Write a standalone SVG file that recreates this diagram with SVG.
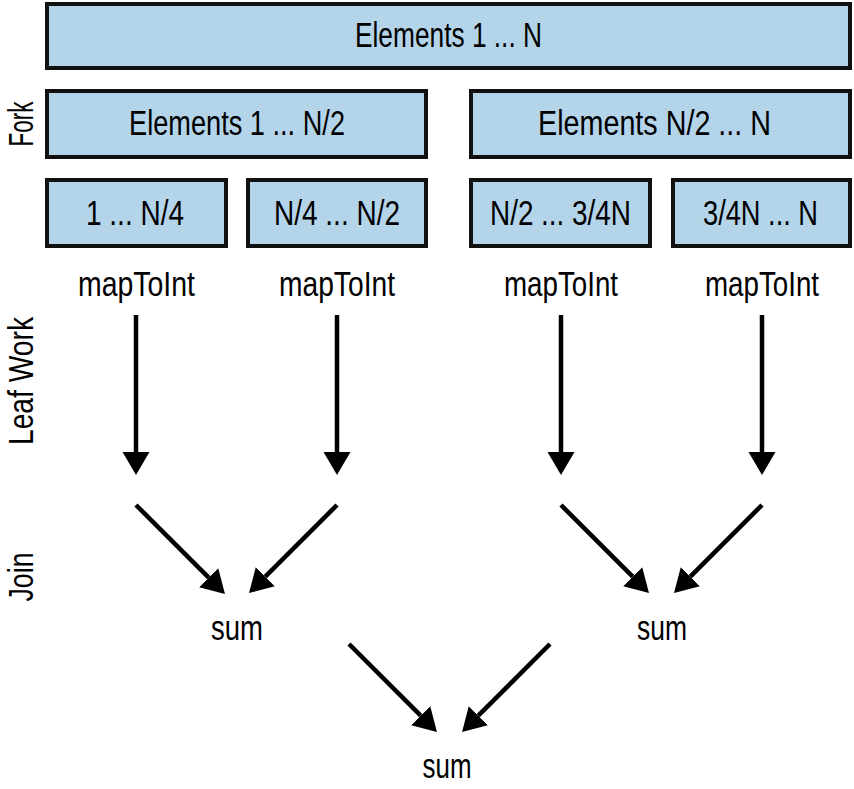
<svg xmlns="http://www.w3.org/2000/svg" width="854" height="789" viewBox="0 0 854 789">
<style>
.box{fill:#b3d4e9;stroke:#111;stroke-width:4}
.t{font-family:"Liberation Sans",Arial,sans-serif;font-size:35px;fill:#000;text-anchor:middle}
.c{stroke:#000;stroke-width:4.5;fill:none;marker-end:url(#ah)}
</style>
<defs>
<marker id="ah" markerUnits="userSpaceOnUse" markerWidth="24" markerHeight="28" viewBox="0 -14 24 28" refX="0" refY="0" orient="auto">
<path d="M0,-13.5 L23,0 L0,13.5 Z" fill="#000"/>
</marker>
</defs>
<rect width="854" height="789" fill="#fff"/>
<g id="all">
<rect class="box" x="47" y="4" width="803" height="64"/>
<text class="t" x="448.5" y="47" textLength="187" lengthAdjust="spacingAndGlyphs">Elements 1 ... N</text>
</g>
<g id="half1">
<rect class="box" x="47" y="91" width="379" height="66"/>
<text class="t" x="237" y="135" textLength="216" lengthAdjust="spacingAndGlyphs">Elements 1 ... N/2</text>
</g>
<g id="half2">
<rect class="box" x="471" y="91" width="379" height="66"/>
<text class="t" x="654.5" y="135" textLength="233" lengthAdjust="spacingAndGlyphs">Elements N/2 ... N</text>
</g>
<g id="q1">
<rect class="box" x="47" y="180" width="179" height="66"/>
<text class="t" x="135" y="225" textLength="98" lengthAdjust="spacingAndGlyphs">1 ... N/4</text>
</g>
<g id="q2">
<rect class="box" x="248" y="180" width="178" height="66"/>
<text class="t" x="337" y="225" textLength="126" lengthAdjust="spacingAndGlyphs">N/4 ... N/2</text>
</g>
<g id="q3">
<rect class="box" x="471" y="180" width="179" height="66"/>
<text class="t" x="560.5" y="225" textLength="141" lengthAdjust="spacingAndGlyphs">N/2 ... 3/4N</text>
</g>
<g id="q4">
<rect class="box" x="673" y="180" width="177" height="66"/>
<text class="t" x="760.5" y="225" textLength="115" lengthAdjust="spacingAndGlyphs">3/4N ... N</text>
</g>
<g id="map1"><text class="t" x="136.5" y="296" textLength="117" lengthAdjust="spacingAndGlyphs">mapToInt</text></g>
<g id="map2"><text class="t" x="337" y="296" textLength="116" lengthAdjust="spacingAndGlyphs">mapToInt</text></g>
<g id="map3"><text class="t" x="561" y="296" textLength="114" lengthAdjust="spacingAndGlyphs">mapToInt</text></g>
<g id="map4"><text class="t" x="762" y="296" textLength="114" lengthAdjust="spacingAndGlyphs">mapToInt</text></g>
<g id="sum1"><text class="t" x="237" y="640" textLength="52" lengthAdjust="spacingAndGlyphs">sum</text></g>
<g id="sum2"><text class="t" x="662" y="640" textLength="50" lengthAdjust="spacingAndGlyphs">sum</text></g>
<g id="sum3"><text class="t" x="447" y="778" textLength="49" lengthAdjust="spacingAndGlyphs">sum</text></g>
<g id="labels">
<text class="t" transform="translate(33,124) rotate(-90)" textLength="45" lengthAdjust="spacingAndGlyphs">Fork</text>
<text class="t" transform="translate(33,381) rotate(-90)" textLength="128" lengthAdjust="spacingAndGlyphs">Leaf Work</text>
<text class="t" transform="translate(33,577) rotate(-90)" textLength="49" lengthAdjust="spacingAndGlyphs">Join</text>
</g>
<g id="connectors">
<line class="c" x1="136" y1="315" x2="136" y2="452"/>
<line class="c" x1="337" y1="315" x2="337" y2="452"/>
<line class="c" x1="561" y1="315" x2="561" y2="452"/>
<line class="c" x1="762" y1="315" x2="762" y2="452"/>
<line class="c" x1="136" y1="505" x2="208.7" y2="577.7"/>
<line class="c" x1="337" y1="505" x2="265.3" y2="576.7"/>
<line class="c" x1="561" y1="505" x2="632.7" y2="576.7"/>
<line class="c" x1="762" y1="505" x2="690.3" y2="576.7"/>
<line class="c" x1="349" y1="644" x2="420.7" y2="715.7"/>
<line class="c" x1="550" y1="644" x2="478.3" y2="715.7"/>
</g>
</svg>
